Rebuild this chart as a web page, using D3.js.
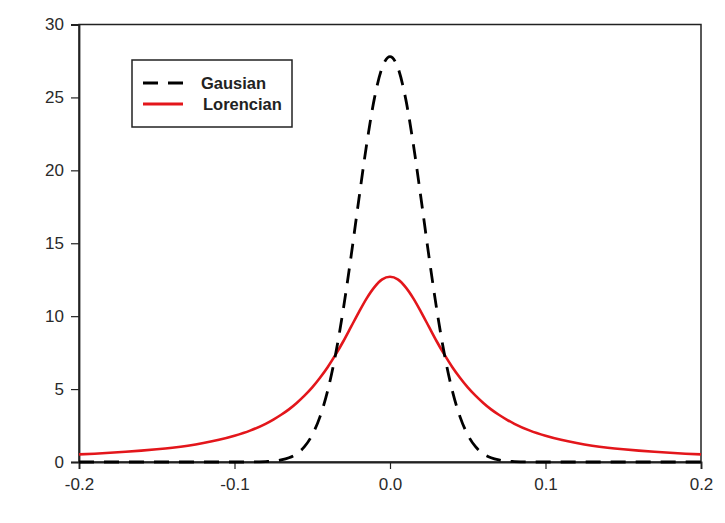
<!DOCTYPE html>
<meta charset="utf-8">

<!-- Load d3.js -->
<script src="https://d3js.org/d3.v7.min.js"></script>

<style>
  body { margin: 0; background: #ffffff; }
  text { font-family: Arial, "Liberation Sans", sans-serif; }
</style>

<!-- Create a div where the graph will take place -->
<div id="chart"></div>

<script>

// x positions of the points
var xVals = [-0.2, -0.19, -0.18, -0.17, -0.16, -0.15, -0.14, -0.13, -0.12, -0.11,
             -0.1, -0.09, -0.08, -0.075, -0.07, -0.065, -0.06, -0.055, -0.05, -0.045,
             -0.04, -0.035, -0.03, -0.025, -0.02, -0.015, -0.01, -0.005, 0,
             0.005, 0.01, 0.015, 0.02, 0.025, 0.03, 0.035, 0.04, 0.045, 0.05,
             0.055, 0.06, 0.065, 0.07, 0.075, 0.08, 0.09, 0.1, 0.11, 0.12,
             0.13, 0.14, 0.15, 0.16, 0.17, 0.18, 0.19, 0.2];

// Gausian curve (black dashed)
var gausian = [0, 0, 0, 0, 0, 0, 0, 0, 0, 0,
               0, 0, 0.03, 0.06, 0.14, 0.29, 0.56, 1.05, 1.86, 3.11,
               4.92, 7.38, 10.5, 14.13, 18.03, 21.79, 24.95, 27.06, 27.8,
               27.06, 24.95, 21.79, 18.03, 14.13, 10.5, 7.38, 4.92, 3.11, 1.86,
               1.05, 0.56, 0.29, 0.14, 0.06, 0.03, 0, 0, 0, 0,
               0, 0, 0, 0, 0, 0, 0, 0];

// Lorencian curve (red)
var lorencian = [0.52, 0.57, 0.63, 0.7, 0.78, 0.87, 0.98, 1.12, 1.3, 1.52,
                 1.8, 2.15, 2.62, 2.91, 3.24, 3.61, 4.05, 4.55, 5.12, 5.78,
                 6.52, 7.36, 8.28, 9.28, 10.28, 11.22, 11.99, 12.52, 12.7,
                 12.52, 11.99, 11.22, 10.28, 9.28, 8.28, 7.36, 6.52, 5.78, 5.12,
                 4.55, 4.05, 3.61, 3.24, 2.91, 2.62, 2.15, 1.8, 1.52, 1.3,
                 1.12, 0.98, 0.87, 0.78, 0.7, 0.63, 0.57, 0.52];

// tick labels
var xTicks = [-0.2, -0.1, 0.0, 0.1, 0.2];
var yTicks = [0, 5, 10, 15, 20, 25, 30];

// set the dimensions and margins of the graph
var margin = {top: 24.5, right: 24, bottom: 61, left: 79},
    width = 725 - margin.left - margin.right,
    height = 523 - margin.top - margin.bottom;

var svg = d3.select("#chart")
  .append("svg")
    .attr("width", 725)
    .attr("height", 523)
  .append("g")
    .attr("transform", "translate(" + margin.left + "," + margin.top + ")");

var x = d3.scaleLinear()
  .domain([-0.2, 0.2])
  .range([0, width]);

var y = d3.scaleLinear()
  .domain([0, 30])
  .range([height, 0]);

// frame around the plot
svg.append("rect")
  .attr("width", width)
  .attr("height", height)
  .style("fill", "white")
  .style("stroke", "#222")
  .style("stroke-width", 1.5);

// X axis (plain hyphen for the minus sign, like the original)
var xAxis = svg.append("g")
  .attr("transform", "translate(0," + height + ")")
  .call(d3.axisBottom(x).tickValues(xTicks).tickSize(7).tickPadding(9)
        .tickFormat(function(d) { return d.toFixed(1); }));

// Y axis
var yAxis = svg.append("g")
  .call(d3.axisLeft(y).tickValues(yTicks).tickSize(8).tickPadding(7));

[xAxis, yAxis].forEach(function(a) {
  a.select(".domain").style("stroke", "#222").style("stroke-width", 1.8);
  a.selectAll(".tick line").style("stroke", "#222").style("stroke-width", 1.2);
  a.selectAll("text")
    .style("font-size", "17px")
    .style("fill", "#2a2a2a")
    .style("font-family", "Arial, 'Liberation Sans', sans-serif");
});

var line = function(vals) {
  return d3.line()
    .x(function(d, i) { return x(xVals[i]); })
    .y(function(d) { return y(d); })
    .curve(d3.curveMonotoneX)(vals);
};

// Lorencian
svg.append("path")
  .attr("d", line(lorencian))
  .style("fill", "none")
  .style("stroke", "#e3161b")
  .style("stroke-width", 2.6);

// Gausian
svg.append("path")
  .attr("d", line(gausian))
  .style("fill", "none")
  .style("stroke", "#000")
  .style("stroke-width", 2.8)
  .style("stroke-dasharray", "15,10");

// Legend
var legend = svg.append("g")
  .attr("transform", "translate(" + (132 - margin.left) + "," + (60 - margin.top) + ")");

legend.append("rect")
  .attr("width", 160)
  .attr("height", 67)
  .style("fill", "white")
  .style("stroke", "#222")
  .style("stroke-width", 1.5);

var legendItems = [
  {name: "Gausian", color: "#000", dash: "15,10", dy: 23, tx: 69},
  {name: "Lorencian", color: "#e3161b", dash: null, dy: 44, tx: 71}
];

legendItems.forEach(function(d) {
  legend.append("line")
    .attr("x1", 11).attr("x2", 51)
    .attr("y1", d.dy).attr("y2", d.dy)
    .style("stroke", d.color)
    .style("stroke-width", 2.8)
    .style("stroke-dasharray", d.dash);
  legend.append("text")
    .attr("x", d.tx)
    .attr("y", d.dy + 5.5)
    .text(d.name)
    .style("font-size", "16.5px")
    .style("font-weight", "bold")
    .style("fill", "#222");
});

</script>
